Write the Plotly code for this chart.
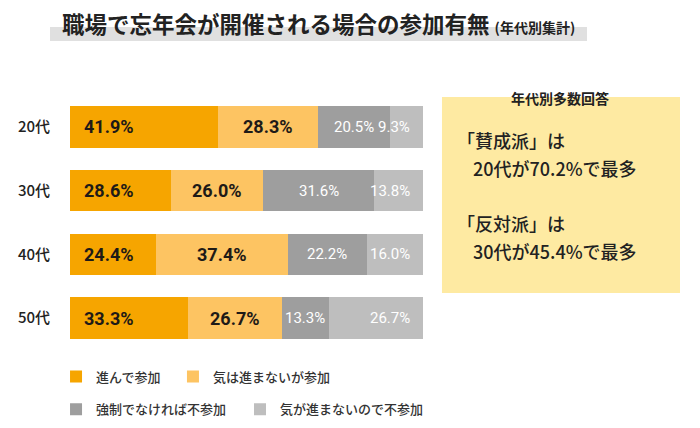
import plotly.graph_objects as go

# 年代別の回答比率 (%)
ages = ['20代', '30代', '40代', '50代']
series_names = ['進んで参加', '気は進まないが参加', '強制でなければ不参加', '気が進まないので不参加']
eager = [41.9, 28.6, 24.4, 33.3]
reluctant = [28.3, 26.0, 37.4, 26.7]
unless_forced = [20.5, 31.6, 22.2, 13.3]
unwilling = [9.3, 13.8, 16.0, 26.7]

title_text = '職場で忘年会が開催される場合の参加有無'
subtitle_text = '(年代別集計)'
box_title = '年代別多数回答'

series = [eager, reluctant, unless_forced, unwilling]
colors = ['#F6A500', '#FDC462', '#9E9E9E', '#BEBEBE']
legend_ids = ['legend', 'legend2', 'legend3', 'legend4']
# 凡例の位置 (paper座標)
legend_pos = [(-0.0229, -0.104), (0.1688, -0.104), (-0.0229, -0.233), (0.2787, -0.233)]

jp = 'Noto Sans CJK JP, Noto Sans, sans-serif'
num_font = 'Roboto, Liberation Sans, sans-serif'

fig = go.Figure()

for name, vals, color, lg in zip(series_names, series, colors, legend_ids):
    fig.add_trace(go.Bar(
        y=ages,
        x=vals,
        name=name,
        orientation='h',
        marker={'color': color, 'line': {'width': 0}},
        legend=lg,
        hoverinfo='skip',
    ))

# 値ラベル
for i, age in enumerate(ages):
    start = 0
    for k, vals in enumerate(series):
        v = vals[i]
        dark = k < 2
        if k == 0:
            x, anchor = start + 3.5, 'left'
        elif k == 3:
            x, anchor = 97, 'right'
        else:
            x, anchor = start + v / 2, 'center'
        fig.add_annotation(
            x=x, y=age, xref='x', yref='y',
            text=f'{v:.1f}%',
            showarrow=False,
            xanchor=anchor,
            font={'family': num_font,
                  'size': 18 if dark else 15,
                  'color': '#1E1A17' if dark else 'white',
                  'weight': 'bold' if dark else 'normal'},
        )
        start += v

# 右側の囲み
fig.add_shape(type='rect', xref='paper', yref='paper',
              x0=0.6098, x1=1.0, y0=0.2235, y1=0.992,
              fillcolor='#FEEAA2', line={'width': 0}, layer='below')
fig.add_annotation(xref='paper', yref='paper', x=0.803, y=0.99,
                   text=box_title, showarrow=False, xanchor='center', yanchor='middle',
                   font={'family': jp, 'size': 14, 'color': '#222222', 'weight': 'bold'})

pro = [e + r for e, r in zip(eager, reluctant)]
con = [u + w for u, w in zip(unless_forced, unwilling)]
top_pro = max(range(len(ages)), key=lambda i: pro[i])
top_con = max(range(len(ages)), key=lambda i: con[i])
box_lines = [
    ('「賛成派」は', 0.6312, 0.8237),
    (f'{ages[top_pro]}が{pro[top_pro]:.1f}%で最多', 0.6574, 0.7139),
    ('「反対派」は', 0.6312, 0.4982),
    (f'{ages[top_con]}が{con[top_con]:.1f}%で最多', 0.6574, 0.3884),
]
for text, x, y in box_lines:
    fig.add_annotation(xref='paper', yref='paper', x=x, y=y, text=text,
                       showarrow=False, xanchor='left', yanchor='middle',
                       font={'family': jp, 'size': 18, 'color': '#222222', 'weight': 500})

# タイトル帯
fig.add_shape(type='rect', xref='paper', yref='paper',
              x0=-0.0328, x1=0.8475, y0=1.2118, y1=1.2667,
              fillcolor='#E0E0E0', line={'width': 0}, layer='below')

legend_font = {'family': jp, 'size': 13, 'color': '#333333', 'weight': 500}
legends = {}
for lg, (lx, ly) in zip(legend_ids, legend_pos):
    legends[lg] = {'orientation': 'h', 'x': lx, 'xanchor': 'left', 'y': ly, 'yanchor': 'middle',
                   'bgcolor': 'rgba(0,0,0,0)', 'font': legend_font}

# ページ余白(8px)の分だけ小さく作る
fig.update_layout(
    width=692,
    height=420,
    barmode='stack',
    bargap=0.35,
    margin={'l': 62, 'r': 20, 't': 87, 'b': 78, 'autoexpand': False},
    plot_bgcolor='white',
    paper_bgcolor='white',
    title={
        'text': f"{title_text} <span style='font-size:14px'>{subtitle_text}</span>",
        'xref': 'container', 'yref': 'container',
        'x': 54 / 692, 'xanchor': 'left',
        'y': 1 - 17 / 420, 'yanchor': 'middle',
        'font': {'family': jp, 'size': 22.5, 'color': '#222222', 'weight': 'bold'},
    },
    xaxis={'domain': [0, 353 / 610], 'range': [0, 100], 'visible': False, 'fixedrange': True},
    yaxis={'range': [3.5, -0.5], 'showgrid': False, 'zeroline': False, 'ticks': '',
           'ticklabelstandoff': 19, 'fixedrange': True,
           'tickfont': {'family': jp, 'size': 15, 'color': '#222222', 'weight': 500}},
    showlegend=True,
    **legends,
)

fig.write_html('out.html')
